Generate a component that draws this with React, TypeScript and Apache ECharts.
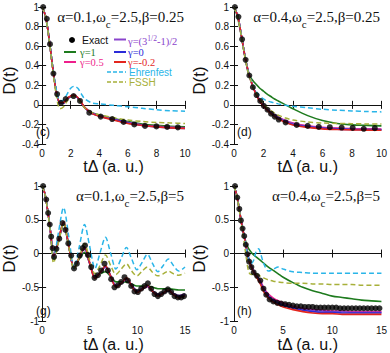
import { useEffect, useRef } from "react";
import * as echarts from "echarts";

// ---------- time grids ----------
const tCD = [0, 0.25, 0.5, 0.75, 1, 1.25, 1.5, 1.75, 2, 2.25, 2.5, 2.75, 3, 3.5, 4, 5, 6, 7, 8, 9, 10];
const tG = [0, 0.3, 0.6, 0.9, 1.2, 1.7, 2.25, 2.8, 3.35, 3.9, 4.45, 5.0, 5.55, 6.1, 6.65, 7.2, 7.75, 8.3, 8.85, 9.4, 9.95, 10.5, 11.05, 11.6, 12.15, 12.7, 13.25, 13.8, 14.35, 15];
const tH = [0, 0.25, 0.5, 0.75, 1, 1.25, 1.5, 1.75, 2, 2.25, 2.5, 2.75, 3, 3.5, 4, 4.5, 5, 6, 7, 8, 9, 10, 11, 12, 13, 14, 15];

// ---------- panel (c): alpha=0.1, beta=0.25 ----------
const exactC = [[0.07, 1.0], [0.33, 0.88], [0.55, 0.62], [0.79, 0.32], [1.05, 0.11], [1.32, 0.02], [1.65, 0.06], [2.2, 0.09], [2.65, 0.04], [3.3, -0.08], [4.1, -0.12], [4.9, -0.145], [5.7, -0.175], [6.45, -0.2], [7.2, -0.215], [8.0, -0.22], [8.75, -0.225], [9.5, -0.23]];
const gamma1C = [1, 0.9, 0.66, 0.37, 0.13, 0.02, 0.02, 0.06, 0.085, 0.095, 0.07, 0.02, -0.03, -0.08, -0.105, -0.14, -0.17, -0.195, -0.21, -0.22, -0.225];
const gamma05C = [1, 0.9, 0.66, 0.37, 0.13, 0.02, 0.02, 0.06, 0.085, 0.095, 0.07, 0.02, -0.03, -0.085, -0.11, -0.145, -0.18, -0.205, -0.22, -0.23, -0.235];
const gammaSqC = [1, 0.9, 0.66, 0.37, 0.13, 0.02, 0.02, 0.06, 0.085, 0.095, 0.07, 0.02, -0.03, -0.085, -0.11, -0.15, -0.18, -0.205, -0.22, -0.23, -0.235];
const gamma0C = [1, 0.9, 0.66, 0.37, 0.13, 0.02, 0.02, 0.06, 0.085, 0.095, 0.07, 0.02, -0.035, -0.09, -0.115, -0.15, -0.185, -0.21, -0.225, -0.235, -0.24];
const gammaM02C = [1, 0.9, 0.66, 0.37, 0.13, 0.025, 0.025, 0.065, 0.09, 0.1, 0.075, 0.025, -0.03, -0.09, -0.115, -0.155, -0.19, -0.21, -0.225, -0.235, -0.24];
const ehrC = [1, 0.9, 0.66, 0.38, 0.15, 0.04, 0.05, 0.11, 0.17, 0.19, 0.17, 0.11, 0.06, 0.02, 0.01, -0.005, -0.02, -0.035, -0.05, -0.06, -0.065];
const fsshC = [1, 0.9, 0.65, 0.35, 0.09, -0.04, -0.02, 0.04, 0.075, 0.085, 0.06, 0.01, -0.035, -0.08, -0.1, -0.13, -0.155, -0.17, -0.18, -0.185, -0.19];

// ---------- panel (d): alpha=0.4, beta=0.25 ----------
const exactD = [[0.06, 1.0], [0.3, 0.9], [0.55, 0.67], [0.79, 0.46], [1.04, 0.3], [1.28, 0.18], [1.53, 0.1], [1.78, 0.04], [2.02, -0.01], [2.27, -0.05], [2.51, -0.09], [2.76, -0.12], [3.03, -0.15], [3.5, -0.18], [4.25, -0.205], [5.0, -0.215], [5.75, -0.225], [6.5, -0.228], [7.3, -0.232], [8.05, -0.235], [8.8, -0.245], [9.55, -0.238]];
const gamma1D = [1, 0.89, 0.7, 0.49, 0.31, 0.255, 0.21, 0.17, 0.14, 0.11, 0.085, 0.06, 0.04, 0.0, -0.04, -0.11, -0.16, -0.19, -0.205, -0.21, -0.215];
const gamma05D = [1, 0.91, 0.71, 0.49, 0.32, 0.2, 0.115, 0.05, 0.0, -0.04, -0.075, -0.1, -0.125, -0.16, -0.185, -0.215, -0.23, -0.238, -0.242, -0.245, -0.247];
const gammaSqD = [1, 0.91, 0.71, 0.49, 0.32, 0.2, 0.11, 0.045, -0.005, -0.045, -0.08, -0.105, -0.13, -0.165, -0.19, -0.22, -0.235, -0.243, -0.248, -0.25, -0.252];
const gamma0D = [1, 0.91, 0.71, 0.49, 0.32, 0.2, 0.11, 0.04, -0.01, -0.05, -0.085, -0.115, -0.14, -0.175, -0.2, -0.225, -0.24, -0.248, -0.252, -0.255, -0.256];
const gammaM02D = [1, 0.91, 0.71, 0.49, 0.32, 0.2, 0.105, 0.035, -0.015, -0.055, -0.09, -0.12, -0.145, -0.18, -0.205, -0.23, -0.245, -0.252, -0.256, -0.258, -0.26];
const ehrD = [1, 0.91, 0.71, 0.49, 0.32, 0.21, 0.14, 0.09, 0.06, 0.04, 0.03, 0.02, 0.01, -0.005, -0.015, -0.03, -0.045, -0.055, -0.062, -0.068, -0.072];
const fsshD = [1, 0.9, 0.7, 0.48, 0.31, 0.2, 0.12, 0.06, 0.01, -0.03, -0.06, -0.085, -0.105, -0.135, -0.155, -0.175, -0.185, -0.19, -0.192, -0.195, -0.195];

// ---------- panel (g): alpha=0.1, beta=5 ----------
const exactG = [[0.1, 1.0], [0.43, 0.8], [0.63, 0.6], [0.8, 0.43], [0.95, 0.25], [1.1, 0.08], [1.25, -0.05], [1.5, 0.07], [1.8, 0.22], [2.15, 0.45], [2.45, 0.35], [2.75, 0.15], [3.05, -0.03], [3.35, -0.22], [3.65, -0.15], [3.95, -0.03], [4.25, 0.08], [4.5, 0.12], [4.8, -0.02], [5.15, -0.2], [5.5, -0.36], [5.85, -0.32], [6.2, -0.25], [6.55, -0.15], [6.9, -0.25], [7.25, -0.38], [7.6, -0.5], [7.95, -0.47], [8.3, -0.42], [8.65, -0.35], [9.0, -0.4], [9.35, -0.48], [9.7, -0.56], [10.05, -0.57], [10.4, -0.52], [10.75, -0.48], [11.1, -0.44], [11.45, -0.52], [11.8, -0.6], [12.15, -0.63], [12.5, -0.6], [12.85, -0.56], [13.2, -0.53], [13.55, -0.57], [13.9, -0.63], [14.25, -0.65], [14.6, -0.65], [14.9, -0.63]];
const gamma1G = [1, 0.88, 0.62, 0.3, -0.04, 0.17, 0.43, 0.1, -0.2, -0.08, 0.02, -0.15, -0.33, -0.3, -0.27, -0.34, -0.42, -0.42, -0.42, -0.45, -0.48, -0.48, -0.48, -0.5, -0.52, -0.52, -0.52, -0.53, -0.54, -0.54];
const gamma05G = [1, 0.88, 0.62, 0.3, -0.05, 0.18, 0.46, 0.11, -0.22, -0.06, 0.07, -0.15, -0.35, -0.28, -0.2, -0.33, -0.48, -0.44, -0.38, -0.47, -0.56, -0.53, -0.49, -0.56, -0.61, -0.59, -0.55, -0.6, -0.63, -0.61];
const gammaSqG = [1, 0.88, 0.62, 0.3, -0.05, 0.18, 0.46, 0.11, -0.22, -0.06, 0.08, -0.15, -0.35, -0.28, -0.2, -0.33, -0.47, -0.44, -0.38, -0.46, -0.55, -0.52, -0.48, -0.55, -0.6, -0.58, -0.54, -0.59, -0.62, -0.6];
const gamma0G = [1, 0.88, 0.62, 0.3, -0.05, 0.19, 0.46, 0.11, -0.22, -0.06, 0.09, -0.14, -0.36, -0.28, -0.19, -0.34, -0.49, -0.44, -0.37, -0.48, -0.57, -0.53, -0.48, -0.56, -0.62, -0.59, -0.55, -0.61, -0.64, -0.62];
const gammaM02G = [1, 0.88, 0.62, 0.3, -0.05, 0.19, 0.47, 0.11, -0.22, -0.06, 0.1, -0.14, -0.37, -0.28, -0.18, -0.34, -0.5, -0.44, -0.36, -0.48, -0.58, -0.53, -0.47, -0.56, -0.63, -0.59, -0.54, -0.61, -0.66, -0.63];
const ehrG = [1, 0.88, 0.62, 0.29, -0.08, 0.3, 0.68, 0.25, -0.22, 0.1, 0.43, 0.1, -0.22, 0.02, 0.24, 0.0, -0.23, -0.07, 0.09, -0.08, -0.24, -0.13, -0.01, -0.15, -0.27, -0.18, -0.08, -0.18, -0.26, -0.2];
const fsshG = [1, 0.88, 0.61, 0.27, -0.14, 0.15, 0.45, 0.1, -0.23, -0.05, 0.15, -0.1, -0.3, -0.17, -0.02, -0.18, -0.31, -0.23, -0.15, -0.26, -0.33, -0.26, -0.2, -0.28, -0.33, -0.3, -0.26, -0.3, -0.32, -0.29];

// ---------- panel (h): alpha=0.4, beta=5 ----------
const exactH = [[0.1, 1.0], [0.33, 0.83], [0.54, 0.66], [0.7, 0.49], [0.87, 0.37], [1.04, 0.26], [1.2, 0.13], [1.37, -0.01], [1.54, -0.12], [1.77, -0.2], [2.0, -0.28], [2.34, -0.33], [2.68, -0.4], [3.0, -0.52], [3.28, -0.61], [3.62, -0.68], [4.0, -0.71], [4.4, -0.73], [4.8, -0.74], [5.2, -0.75], [5.6, -0.76], [6.0, -0.77], [6.4, -0.78], [6.8, -0.78], [7.2, -0.79], [7.6, -0.79], [8.0, -0.79], [8.4, -0.8], [8.8, -0.8], [9.2, -0.8], [9.6, -0.8], [10.0, -0.8], [10.4, -0.8], [10.8, -0.81], [11.2, -0.81], [11.6, -0.81], [12.0, -0.81], [12.4, -0.81], [12.8, -0.81], [13.2, -0.81], [13.6, -0.81], [14.0, -0.81], [14.4, -0.81], [14.8, -0.81]];
const gamma1H = [1, 0.88, 0.69, 0.47, 0.29, 0.15, 0.07, 0.02, -0.02, -0.05, -0.08, -0.11, -0.14, -0.2, -0.25, -0.3, -0.35, -0.43, -0.5, -0.55, -0.59, -0.63, -0.65, -0.67, -0.69, -0.7, -0.71];
const gamma05H = [1, 0.88, 0.69, 0.46, 0.28, 0.1, -0.07, -0.17, -0.25, -0.31, -0.36, -0.42, -0.5, -0.6, -0.66, -0.7, -0.73, -0.78, -0.81, -0.83, -0.84, -0.85, -0.85, -0.86, -0.86, -0.86, -0.86];
const gammaSqH = [1, 0.88, 0.69, 0.46, 0.28, 0.09, -0.08, -0.18, -0.26, -0.32, -0.37, -0.44, -0.52, -0.62, -0.68, -0.72, -0.75, -0.8, -0.83, -0.84, -0.85, -0.86, -0.86, -0.87, -0.87, -0.87, -0.87];
const gamma0H = [1, 0.88, 0.69, 0.46, 0.28, 0.09, -0.09, -0.19, -0.27, -0.33, -0.38, -0.45, -0.54, -0.64, -0.7, -0.74, -0.77, -0.81, -0.84, -0.86, -0.87, -0.87, -0.88, -0.88, -0.88, -0.88, -0.88];
const gammaM02H = [1, 0.88, 0.69, 0.46, 0.28, 0.09, -0.1, -0.2, -0.28, -0.34, -0.4, -0.47, -0.56, -0.66, -0.72, -0.76, -0.79, -0.83, -0.86, -0.88, -0.89, -0.89, -0.9, -0.9, -0.9, -0.9, -0.9];
const ehrH = [1, 0.88, 0.69, 0.46, 0.27, 0.08, -0.08, -0.15, -0.1, 0.03, 0.07, -0.02, -0.14, -0.26, -0.23, -0.2, -0.23, -0.27, -0.28, -0.29, -0.29, -0.29, -0.29, -0.29, -0.29, -0.29, -0.29];
const fsshH = [1, 0.88, 0.68, 0.44, 0.2, -0.06, -0.27, -0.31, -0.3, -0.3, -0.32, -0.34, -0.36, -0.39, -0.41, -0.42, -0.43, -0.44, -0.44, -0.45, -0.45, -0.46, -0.46, -0.46, -0.47, -0.47, -0.47];

// ---------- axis settings ----------
const xMaxes = [10, 10, 15, 15];
const xIntervals = [2, 2, 5, 5];
const yMins = [-0.4, -0.4, -1, -1];
const yIntervals = [0.2, 0.2, 0.5, 0.5];
const panelTags = ["(c)", "(d)", "(g)", "(h)"];
const alphas = ["0.1", "0.4", "0.1", "0.4"];
const betas = ["0.25", "0.25", "5", "5"];

const COL = {
  exact: "#000000",
  g1: "#1e7b1e",
  g05: "#ee1f8c",
  gsq: "#8a44cc",
  g0: "#2b2bd8",
  gm02: "#e3261e",
  ehr: "#2ab5e8",
  fssh: "#a7b03a",
};

const SANS = "'Liberation Sans', Arial, sans-serif";
const SERIF = "'Liberation Serif', 'Times New Roman', serif";

const GRIDS = [
  { left: 33, top: 7, width: 152, height: 137 },
  { left: 234, top: 7, width: 149, height: 137 },
  { left: 33, top: 186, width: 152, height: 136 },
  { left: 234, top: 186, width: 149, height: 138 },
];

const pair = (t: number[], v: number[]) => t.map((x, i) => [x, v[i]]);

export default function App() {
  const ref = useRef<HTMLDivElement>(null);
  useEffect(() => {
    if (!ref.current) return;
    const chart = echarts.init(ref.current, undefined, { renderer: "svg" });

    const panels = [
      { t: tCD, exact: exactC, g1: gamma1C, g05: gamma05C, gsq: gammaSqC, g0: gamma0C, gm02: gammaM02C, ehr: ehrC, fssh: fsshC },
      { t: tCD, exact: exactD, g1: gamma1D, g05: gamma05D, gsq: gammaSqD, g0: gamma0D, gm02: gammaM02D, ehr: ehrD, fssh: fsshD },
      { t: tG, exact: exactG, g1: gamma1G, g05: gamma05G, gsq: gammaSqG, g0: gamma0G, gm02: gammaM02G, ehr: ehrG, fssh: fsshG },
      { t: tH, exact: exactH, g1: gamma1H, g05: gamma05H, gsq: gammaSqH, g0: gamma0H, gm02: gammaM02H, ehr: ehrH, fssh: fsshH },
    ];

    const fmt = (v: number) => String(Math.round(v * 100) / 100);
    const xAxes: any[] = [];
    const yAxes: any[] = [];
    const series: any[] = [];

    panels.forEach((p, i) => {
      const leftPanel = i % 2 === 0;
      const common = { gridIndex: i, type: "value", min: 0, max: xMaxes[i], interval: xIntervals[i], splitLine: { show: false } };
      xAxes.push({
        ...common,
        position: "bottom",
        axisLine: { show: true, lineStyle: { color: "#111", width: 1 } },
        axisTick: { show: true, inside: true, length: 4, lineStyle: { color: "#111" } },
        axisLabel: { show: true, margin: 4, color: "#111", fontFamily: SANS, fontSize: 10, formatter: fmt },
        name: "tΔ (a. u.)",
        nameLocation: "middle",
        nameGap: i < 2 ? 11 : 13,
        nameTextStyle: { fontFamily: SANS, fontSize: 16, color: "#111" },
      });
      xAxes.push({
        ...common,
        position: "top",
        axisLine: { show: true, lineStyle: { color: "#111", width: 1 } },
        axisTick: { show: true, inside: true, length: 4, lineStyle: { color: "#111" } },
        axisLabel: { show: false },
      });
      const ycommon = { gridIndex: i, type: "value", min: yMins[i], max: 1, interval: yIntervals[i], splitLine: { show: false } };
      yAxes.push({
        ...ycommon,
        position: "left",
        axisLine: { show: true, lineStyle: { color: "#111", width: 1 } },
        axisTick: { show: true, inside: true, length: 4, lineStyle: { color: "#111" } },
        axisLabel: { show: true, margin: leftPanel ? 3 : 5, color: "#111", fontFamily: SANS, fontSize: 10, formatter: fmt },
        name: "D(t)",
        nameLocation: "middle",
        nameGap: leftPanel ? 14 : 20,
        nameRotate: 90,
        nameTextStyle: { fontFamily: SANS, fontSize: 17, color: "#111", padding: [0, 10, 0, 0] },
      });
      yAxes.push({
        ...ycommon,
        position: "right",
        axisLine: { show: true, lineStyle: { color: "#111", width: 1 } },
        axisTick: { show: true, inside: true, length: 4, lineStyle: { color: "#111" } },
        axisLabel: { show: false },
      });

      const xi = i * 2;
      const yi = i * 2;
      const line = (name: string, data: number[], color: string, dashed = false) => ({
        name,
        type: "line",
        xAxisIndex: xi,
        yAxisIndex: yi,
        data: pair(p.t, data),
        showSymbol: false,
        symbol: "none",
        smooth: 0.3,
        lineStyle: { color, width: dashed ? 1.5 : 1.6, type: dashed ? [5, 3] : "solid" },
        itemStyle: { color },
        z: 2,
      });
      series.push(line("γ=1", p.g1, COL.g1));
      series.push(line("γ=0.5", p.g05, COL.g05));
      series.push(line("γ=(3^1/2-1)/2", p.gsq, COL.gsq));
      series.push(line("γ=0", p.g0, COL.g0));
      series.push(line("γ=-0.2", p.gm02, COL.gm02));
      series.push(line("Ehrenfest", p.ehr, COL.ehr, true));
      series.push(line("FSSH", p.fssh, COL.fssh, true));
      series.push({
        name: "Exact",
        type: "scatter",
        xAxisIndex: xi,
        yAxisIndex: yi,
        data: p.exact,
        symbol: "circle",
        symbolSize: 6,
        itemStyle: { color: COL.exact },
        z: 4,
      });
    });

    const graphics: any[] = [];
    // annotations
    GRIDS.forEach((g, i) => {
      graphics.push({
        type: "text",
        x: g.left + g.width - (i % 2 === 0 ? 1 : 3),
        y: g.top + 2,
        z: 10,
        style: {
          text: `{m|α=${alphas[i]},ω}{s|c}{m|=2.5,β=${betas[i]}}`,
          align: "right",
          verticalAlign: "top",
          rich: {
            m: { fontFamily: SERIF, fontSize: 15, fill: "#111", lineHeight: 16, verticalAlign: "top" },
            s: { fontFamily: SERIF, fontSize: 11, fill: "#111", lineHeight: 11, verticalAlign: "top", padding: [9, 0, 0, 0] },
          },
        },
      });
      graphics.push({
        type: "text",
        x: g.left + 3,
        y: i < 2 ? 132 : 311,
        z: 10,
        style: { text: panelTags[i], fontFamily: SANS, fontSize: 12, lineHeight: 12, fill: "#111", align: "left", verticalAlign: "middle" },
      });
    });

    // legend in panel (c)
    const lg = (x1: number, y: number, color: string, dashed = false) => ({
      type: "line",
      z: 10,
      shape: { x1, y1: y, x2: x1 + (dashed ? 19 : 12), y2: y },
      style: { stroke: color, lineWidth: dashed ? 1.5 : 2, lineDash: dashed ? [4, 2] : null },
    });
    const lt = (x: number, y: number, text: string, color: string, font: string, size: number) => ({
      type: "text",
      x,
      y,
      z: 10,
      style: { text, fill: color, fontFamily: font, fontSize: size, lineHeight: 9, align: "left", verticalAlign: "middle" },
    });
    graphics.push({ type: "circle", z: 10, shape: { cx: 72, cy: 40, r: 3 }, style: { fill: "#000" } });
    graphics.push(lt(82, 40, "Exact", "#111", SANS, 10.5));
    graphics.push(lg(114, 39.5, COL.gsq));
    graphics.push({
      type: "text",
      x: 128,
      y: 38,
      z: 10,
      style: {
        text: "{m|γ=(3}{s|1/2}{m|-1)/2}",
        align: "left",
        verticalAlign: "middle",
        rich: {
          m: { fontFamily: SERIF, fontSize: 10.5, fill: COL.gsq, lineHeight: 8, verticalAlign: "top", padding: [2, 0, 0, 0] },
          s: { fontFamily: SERIF, fontSize: 7.5, fill: COL.gsq, lineHeight: 7, verticalAlign: "top" },
        },
      },
    });
    graphics.push(lg(64, 52, COL.g1));
    graphics.push(lt(80, 52, "γ=1", COL.g1, SERIF, 10.5));
    graphics.push(lg(114, 52, COL.g0));
    graphics.push(lt(128, 52.5, "γ=0", COL.g0, SERIF, 10.5));
    graphics.push(lg(64, 62, COL.g05));
    graphics.push(lt(80, 62, "γ=0.5", COL.g05, SERIF, 10.5));
    graphics.push(lg(114, 62, COL.gm02));
    graphics.push(lt(128, 62.5, "γ=-0.2", COL.gm02, SERIF, 10.5));
    graphics.push(lg(107, 72, COL.ehr, true));
    graphics.push(lt(129, 72, "Ehrenfest", COL.ehr, SANS, 10));
    graphics.push(lg(107, 82, COL.fssh, true));
    graphics.push(lt(129, 82, "FSSH", COL.fssh, SANS, 10));

    chart.setOption({
      animation: false,
      backgroundColor: "#ffffff",
      grid: GRIDS.map((g) => ({ ...g, containLabel: false })),
      xAxis: xAxes,
      yAxis: yAxes,
      series,
      graphic: graphics,
    });
    return () => chart.dispose();
  }, []);
  return <div ref={ref} style={{ width: 390, height: 353, position: "absolute", left: 0, top: 0 }} />;
}
